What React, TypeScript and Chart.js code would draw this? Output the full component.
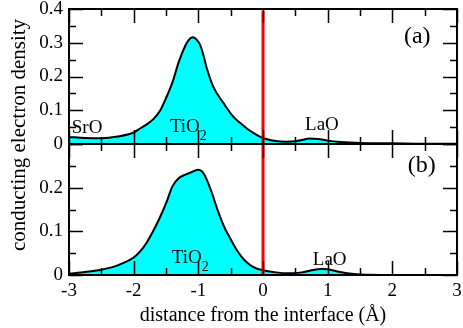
import React, { useEffect, useRef } from "react";
import { Chart, registerables } from "chart.js";

Chart.register(...registerables);

// ---- data: panel (a) ----
const xA = [-3, -2.75, -2.5, -2.25, -2.0, -1.9, -1.8, -1.7, -1.6, -1.5, -1.4, -1.3, -1.2, -1.15, -1.09, -1.03, -0.97, -0.92, -0.87, -0.77, -0.61, -0.46, -0.35, -0.25, -0.15, -0.05, 0.05, 0.2, 0.35, 0.5, 0.6, 0.72, 0.85, 1.0, 1.2, 1.5, 2.0, 2.5, 3.0];
const yA = [0.021, 0.018, 0.017, 0.022, 0.034, 0.046, 0.058, 0.073, 0.096, 0.136, 0.183, 0.245, 0.292, 0.308, 0.316, 0.310, 0.292, 0.262, 0.225, 0.170, 0.121, 0.081, 0.062, 0.046, 0.033, 0.022, 0.015, 0.009, 0.007, 0.008, 0.012, 0.016, 0.015, 0.010, 0.006, 0.003, 0.002, 0.001, 0.001];

// ---- data: panel (b) ----
const xB = [-3, -2.75, -2.5, -2.25, -2.0, -1.9, -1.8, -1.7, -1.6, -1.5, -1.4, -1.3, -1.2, -1.1, -1.0, -0.95, -0.9, -0.8, -0.7, -0.6, -0.5, -0.4, -0.3, -0.2, -0.1, 0.0, 0.2, 0.4, 0.6, 0.75, 0.9, 1.0, 1.15, 1.3, 1.5, 2.0, 3.0];
const yB = [0.003, 0.007, 0.012, 0.022, 0.040, 0.054, 0.074, 0.100, 0.130, 0.164, 0.203, 0.222, 0.230, 0.236, 0.241, 0.238, 0.228, 0.192, 0.148, 0.110, 0.082, 0.056, 0.036, 0.023, 0.015, 0.011, 0.006, 0.004, 0.006, 0.011, 0.014, 0.013, 0.008, 0.004, 0.001, 0.0, 0.0];

// ---- axes ----
const xRange = [-3, 3];
const topRange = [0, 0.4];
const bottomRange = [0, 0.3];
const interfaceX = 0;
const interfaceTopA = 0.395;
const xTitle = "distance from the interface (Å)";
const yTitle = "conducting electron density";

// ---- annotations (data coordinates, baseline) ----
const labelsA = [
  { text: "SrO", x: -2.72, y: 0.033, align: "center", big: false, sub: "" },
  { text: "TiO", x: -1.44, y: 0.036, align: "left", big: false, sub: "2" },
  { text: "LaO", x: 0.65, y: 0.041, align: "left", big: false, sub: "" },
  { text: "(a)", x: 2.18, y: 0.299, align: "left", big: true, sub: "" },
];
const labelsB = [
  { text: "TiO", x: -1.41, y: 0.028, align: "left", big: false, sub: "2" },
  { text: "LaO", x: 0.77, y: 0.023, align: "left", big: false, sub: "" },
  { text: "(b)", x: 2.24, y: 0.235, align: "left", big: true, sub: "" },
];

const FONT = "'Liberation Serif', 'Times New Roman', serif";

const framePlugin = {
  id: "frameTicks",
  afterDatasetsDraw(chart: any) {
    const { ctx } = chart;
    const xs = chart.scales.x;
    const left = xs.left;
    const right = xs.right;
    ctx.save();
    ctx.strokeStyle = "#000";
    for (const id of ["yTop", "yBot"]) {
      const ys = chart.scales[id];
      const top = ys.top;
      const bottom = ys.bottom;
      ctx.lineWidth = 1.5;
      ctx.beginPath();
      const nY = Math.round(ys.max / 0.05);
      for (let k = 0; k <= nY; k++) {
        const py = Math.round(ys.getPixelForValue(k * 0.05)) + 0.5;
        const len = k % 2 === 0 ? 14 : 7;
        ctx.moveTo(left, py);
        ctx.lineTo(left + len, py);
        ctx.moveTo(right, py);
        ctx.lineTo(right - len, py);
      }
      for (let k = -6; k <= 6; k++) {
        const px = Math.round(xs.getPixelForValue(k * 0.5)) + 0.5;
        const len = k % 2 === 0 ? 14 : 7;
        ctx.moveTo(px, top);
        ctx.lineTo(px, top + len);
        ctx.moveTo(px, bottom);
        ctx.lineTo(px, bottom - len);
      }
      ctx.stroke();
      ctx.lineWidth = 2;
      ctx.strokeRect(left, top, right - left, bottom - top);
    }
    ctx.restore();
  },
  afterDraw(chart: any) {
    const { ctx } = chart;
    const xs = chart.scales.x;
    ctx.save();
    ctx.fillStyle = "#000";
    const drawSet = (labels: any[], ys: any) => {
      for (const l of labels) {
        const px = xs.getPixelForValue(l.x);
        const py = ys.getPixelForValue(l.y);
        ctx.font = `${l.big ? 24 : 19}px ${FONT}`;
        ctx.textAlign = l.align;
        ctx.textBaseline = "alphabetic";
        ctx.fillText(l.text, px, py);
        if (l.sub) {
          const w = ctx.measureText(l.text).width;
          ctx.font = `14px ${FONT}`;
          ctx.textAlign = "left";
          ctx.fillText(l.sub, px + w, py + 8);
        }
      }
    };
    drawSet(labelsA, chart.scales.yTop);
    drawSet(labelsB, chart.scales.yBot);
    // y title
    const ca = chart.chartArea;
    ctx.font = `21px ${FONT}`;
    ctx.textAlign = "center";
    ctx.textBaseline = "middle";
    ctx.translate(19, (ca.top + ca.bottom) / 2 - 7);
    ctx.rotate(-Math.PI / 2);
    ctx.fillText(yTitle, 0, 0);
    ctx.restore();
  },
};

const fmt = (v: number) => {
  const r = Math.round(v * 10) / 10;
  return r === 0 ? "0" : String(r);
};

export default function App() {
  const ref = useRef<HTMLCanvasElement>(null);
  useEffect(() => {
    if (!ref.current) return;
    const tickFont = { family: FONT, size: 19 };
    const chart = new Chart(ref.current, {
      type: "line",
      data: {
        datasets: [
          {
            data: [{ x: interfaceX, y: 0 }, { x: interfaceX, y: interfaceTopA }],
            yAxisID: "yTop",
            borderColor: "#ff0000",
            borderWidth: 3,
            pointRadius: 0,
            fill: false,
            order: 0,
          },
          {
            data: [{ x: interfaceX, y: 0 }, { x: interfaceX, y: bottomRange[1] }],
            yAxisID: "yBot",
            borderColor: "#ff0000",
            borderWidth: 3,
            pointRadius: 0,
            fill: false,
            order: 0,
          },
          {
            data: xA.map((x, i) => ({ x, y: yA[i] })),
            yAxisID: "yTop",
            borderColor: "#000",
            borderWidth: 2,
            backgroundColor: "#00ffff",
            fill: "origin",
            pointRadius: 0,
            cubicInterpolationMode: "monotone",
            order: 1,
          },
          {
            data: xB.map((x, i) => ({ x, y: yB[i] })),
            yAxisID: "yBot",
            borderColor: "#000",
            borderWidth: 2,
            backgroundColor: "#00ffff",
            fill: "origin",
            pointRadius: 0,
            cubicInterpolationMode: "monotone",
            order: 1,
          },
        ],
      },
      options: {
        animation: false,
        responsive: false,
        events: [],
        layout: { padding: { top: 9, right: 6, left: 0, bottom: 0 } },
        plugins: { legend: { display: false }, tooltip: { enabled: false } },
        scales: {
          x: {
            type: "linear",
            position: "bottom",
            min: xRange[0],
            max: xRange[1],
            grid: { display: false, drawTicks: false },
            border: { display: false },
            ticks: { stepSize: 1, autoSkip: false, font: tickFont, color: "#000", padding: 5, maxRotation: 0, callback: (v: any) => String(v) },
            title: { display: true, text: xTitle, font: { family: FONT, size: 20 }, color: "#000", padding: { top: 0, bottom: 0 } },
            afterFit: (s: any) => { s.height = 53; s.paddingLeft = 0; s.paddingRight = 0; },
          },
          yBot: {
            type: "linear",
            position: "left",
            stack: "panels",
            stackWeight: 131,
            min: bottomRange[0],
            max: bottomRange[1],
            grid: { display: false, drawTicks: false },
            border: { display: false },
            ticks: { stepSize: 0.1, autoSkip: false, font: tickFont, color: "#000", padding: 6, callback: (v: any) => (v > 0.25 ? "" : fmt(v)) },
            afterFit: (s: any) => { s.width = 69; s.paddingTop = 0; s.paddingBottom = 0; },
          },
          yTop: {
            type: "linear",
            position: "left",
            stack: "panels",
            stackWeight: 135,
            min: topRange[0],
            max: topRange[1],
            grid: { display: false, drawTicks: false },
            border: { display: false },
            ticks: { stepSize: 0.1, autoSkip: false, font: tickFont, color: "#000", padding: 6, callback: (v: any) => fmt(v) },
            afterFit: (s: any) => { s.width = 69; s.paddingTop = 0; s.paddingBottom = 0; },
          },
        },
      } as any,
      plugins: [framePlugin],
    });
    return () => chart.destroy();
  }, []);
  return (
    <div style={{ position: "absolute", left: 0, top: 0, width: 463, height: 328, background: "#fff" }}>
      <canvas ref={ref} width={463} height={328} style={{ width: 463, height: 328, display: "block" }} />
    </div>
  );
}
